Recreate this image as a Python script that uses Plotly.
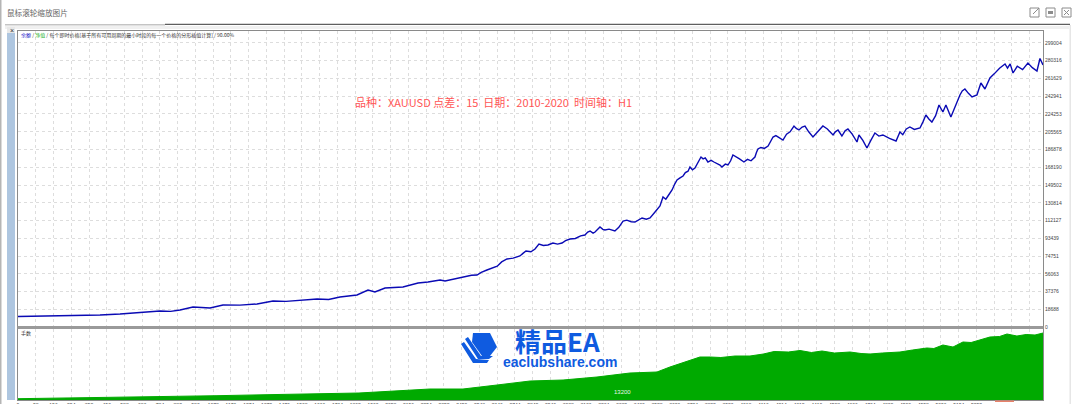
import plotly.graph_objects as go
from plotly.subplots import make_subplots

# balance curve
trades = [0, 120, 237, 350, 462, 575, 690, 800, 860, 913, 986, 1082, 1155, 1250, 1347, 1437, 1510, 1589, 1685, 1750,
          1814, 1910, 1972, 2011, 2068, 2169, 2254, 2310, 2378, 2406, 2507, 2530, 2555, 2586, 2610, 2642, 2676, 2700,
          2725, 2755, 2790, 2828, 2845, 2862, 2890, 2913, 2935, 2960, 2986, 3014, 3040, 3065, 3085, 3110, 3140, 3170,
          3194, 3210, 3223, 3240, 3251, 3265, 3279, 3295, 3307, 3330, 3363, 3385, 3409, 3430, 3455, 3476, 3495, 3516,
          3540, 3561, 3589, 3617, 3634, 3650, 3662, 3675, 3685, 3700, 3713, 3730, 3747, 3760, 3775, 3786, 3800, 3814,
          3830, 3848, 3860, 3872, 3887, 3905, 3921, 3940, 3955, 3966, 3985, 4000, 4015, 4028, 4045, 4065, 4090, 4110,
          4130, 4152, 4160, 4169, 4185, 4205, 4226, 4240, 4254, 4270, 4290, 4310, 4330, 4350, 4372, 4385, 4400, 4418,
          4434, 4455, 4479, 4500, 4520, 4535, 4560, 4592, 4605, 4620, 4642, 4660, 4676, 4700, 4727, 4738, 4760, 4783,
          4805, 4828, 4850, 4873, 4910, 4947, 4969, 4985, 5005, 5025, 5050, 5082, 5100, 5115, 5132, 5149, 5170, 5189,
          5211, 5228, 5256, 5280, 5307, 5320, 5335, 5355, 5375, 5403, 5425, 5448, 5476, 5500, 5530, 5561, 5575, 5590,
          5606, 5630, 5660, 5690, 5715, 5741, 5758, 5775]
balance = [11050, 11300, 11580, 12000, 12630, 13690, 15000, 16840, 16400, 17900, 21060, 20000, 23160, 23000, 24210,
           27370, 27000, 28430, 29480, 29000, 31580, 33690, 38950, 36850, 41060, 42110, 46320, 47380, 49480, 48430,
           52640, 53000, 54500, 54750, 57500, 60010, 62120, 64000, 68500, 71590, 72500, 74750, 77500, 80010, 79200,
           82120, 87380, 85800, 86330, 88440, 87300, 88440, 91000, 92650, 93200, 96000, 96860, 100000, 101070, 98800,
           100020, 103000, 105280, 102800, 102120, 103000, 101070, 105000, 111600, 112500, 110800, 110540, 113000,
           114760, 113500, 114760, 121070, 127390, 136860, 134500, 137920, 141500, 144230, 150500, 154760, 157000,
           158970, 162500, 164000, 168450, 165500, 167390, 172500, 178980, 177000, 178000, 173710, 175500, 173710,
           172000, 170500, 168450, 171500, 170550, 175000, 181080, 179500, 177000, 173710, 176500, 175000, 178980,
           183500, 187400, 189000, 188000, 190560, 195500, 200030, 201500, 199500, 196870, 203000, 205500, 211610,
           209000, 207400, 210500, 211610, 205500, 200030, 204500, 209500, 211610, 208500, 202140, 205500, 207400,
           201090, 206500, 208450, 203000, 194770, 202140, 196500, 188450, 196500, 204240, 201000, 202140, 198500,
           195820, 205300, 202500, 208500, 210560, 208000, 209510, 216500, 223190, 219000, 215820, 222500, 233720,
           226350, 233720, 221090, 233000, 244250, 248500, 250570, 246000, 242140, 244250, 256880, 250570, 262150,
           266500, 272500, 276890, 272500, 277000, 267410, 274500, 271000, 277940, 273000, 269520, 282680, 275830]

# lot size panel
lot_trades = [0, 462, 800, 1121, 1403, 1685, 1921, 2321, 2507, 2699, 2885, 3071, 3262, 3448, 3600, 3673, 3740, 3800,
              3842, 3900, 3960, 4040, 4124, 4200, 4260, 4340, 4406, 4470, 4530, 4600, 4688, 4750, 4800, 4870, 4969,
              5040, 5121, 5160, 5211, 5268, 5324, 5370, 5420, 5476, 5530, 5572, 5600, 5628, 5680, 5730, 5775]
lots = [1.3, 2.3, 3.3, 4.3, 5.3, 6, 7, 11, 11, 15, 19, 20, 23, 27, 28, 33, 37, 41, 43, 43, 42.5, 44, 44, 46, 48.5, 48,
        49.5, 47.5, 49, 47, 48, 46.5, 46, 47, 48, 50, 52, 51.5, 55, 53, 58, 57.5, 60, 63, 63.5, 66, 65, 64, 65.5, 65,
        67]

balance_ticks = [0, 18688, 37376, 56063, 74751, 93439, 112127, 130814, 149502, 168190, 186878, 205565, 224253, 242941,
                 261629, 280316, 299004]
trade_ticks = list(range(0, 5800, 100))
trade_labels = [str(t * 98 // 100) if t <= 5400 else "" for t in trade_ticks]

W, H = 1078, 404
L, R, T, B = 18, 1043, 31, 400


def px(x):
    return (x - L) / (R - L)


def py(y):
    return (B - y) / (B - T)


fig = make_subplots(rows=2, cols=1, shared_xaxes=True, vertical_spacing=2 / (B - T), row_heights=[296, 71])

fig.add_trace(go.Scatter(x=trades, y=balance, mode="lines", line=dict(color="#0a0ab4", width=1.4)), row=1, col=1)
fig.add_trace(go.Scatter(x=lot_trades, y=lots, mode="lines", fill="tozeroy", fillcolor="#00aa00",
                         line=dict(color="#00aa00", width=1)), row=2, col=1)

grid = dict(showgrid=True, gridcolor="#dddddd", griddash="dot", gridwidth=1, zeroline=False, automargin=False)
border = dict(showline=True, linecolor="#8a8a8a", linewidth=1, mirror=True)
tick_font = dict(family="Liberation Sans", size=5, color="#444444")

fig.update_xaxes(range=[0, 5775], tickvals=trade_ticks, **grid, **border)
fig.update_xaxes(showticklabels=False, row=1, col=1)
fig.update_xaxes(ticktext=trade_labels, showticklabels=True, tickfont=tick_font, ticks="", row=2, col=1)
fig.update_yaxes(side="right", tickfont=tick_font, tickformat="d", **grid, **border)
fig.update_yaxes(range=[0, 311630], tickvals=balance_ticks, row=1, col=1)
fig.update_yaxes(range=[0, 71], showticklabels=False, showgrid=False, row=2, col=1)

shapes = []


def rect(x0, y0, x1, y1, fill=None, line=None, width=1):
    shapes.append(dict(type="rect", xref="paper", yref="paper", x0=px(x0), y0=py(y0), x1=px(x1), y1=py(y1),
                       fillcolor=fill, line=dict(color=line, width=width if line else 0)))


def seg(x0, y0, x1, y1, color="#8c8c8c"):
    shapes.append(dict(type="line", xref="paper", yref="paper", x0=px(x0), y0=py(y0), x1=px(x1), y1=py(y1),
                       line=dict(color=color, width=1)))


def poly(points, fill):
    path = "M " + " L ".join(f"{px(x):.5f} {py(y):.5f}" for x, y in points) + " Z"
    shapes.append(dict(type="path", xref="paper", yref="paper", path=path, fillcolor=fill, line=dict(width=0)))


# window chrome
rect(0, 0, 1.5, 404, fill="#b5b5b5")
rect(5, 24, 165, 25.5, fill="#c4c4c4")
rect(165, 23.7, 1070, 25, fill="#5e5e5e")
rect(5, 26, 1069, 29, fill="#f0f0f0")
rect(1069.5, 25, 1071, 404, fill="#e6e6e6")
rect(7, 33, 15, 400, fill="#aec6e0")
rect(7, 27, 15, 33, fill="#e8e8e8")
rect(L - 0.5, 326, R + 0.5, 329, fill="#9a9a9a")
rect(995, 400.5, 1014, 402, fill="#e8826a")
for x0 in (1030, 1046, 1062):
    rect(x0, 8, x0 + 9, 17, line="#8c8c8c")
rect(1048, 11, 1053, 14, fill="#8c8c8c")
seg(1033, 14, 1039, 8)
seg(1064, 10, 1069, 15)
seg(1064, 15, 1069, 10)

# logo in the watermark
poly([(473, 333), (490, 333), (497, 347), (490, 356), (482, 356), (472, 342)], "#0f5be0")
poly([(465, 339), (468, 337), (481, 356), (493, 356), (489, 359), (478, 359)], "#0f5be0")
poly([(461, 344), (464, 342), (476, 359), (489, 360), (487, 363), (473, 363)], "#0f5be0")

fig.update_layout(shapes=shapes)

cjk = "Noto Sans CJK SC"
fig.add_annotation(text="鼠标滚轮缩放图片", x=px(6), y=py(13), font=dict(family=cjk, size=7.6, color="#666666"))
fig.add_annotation(text="×", x=px(8.5), y=py(30), font=dict(family="Liberation Sans", size=7, color="#333333"))
fig.add_annotation(text="<span style='color:#1515c8'>余额</span> / <span style='color:#22b322'>净值</span> / "
                        "每个即时价格[基于所有可用周期的最小时段的每一个价格的分形插值计算] / 90.00%",
                   x=px(20), y=py(35), font=dict(family=cjk, size=5, color="#333333"))
fig.add_annotation(text="手数", x=px(20), y=py(332.5), font=dict(family=cjk, size=5, color="#333333"))
fig.add_annotation(text="品种：XAUUSD 点差：15  日期：2010-2020  时间轴：H1", x=px(354), y=py(102),
                   font=dict(family=cjk, size=11, color="#ff5555"))
fig.add_annotation(text="精品EA", x=px(514), y=py(340.5), font=dict(family=cjk, size=26, color="#0f5be0", weight="bold"))
fig.add_annotation(text="eaclubshare.com", x=px(502), y=py(362),
                   font=dict(family="Liberation Sans", size=14, color="#0f5be0", weight="bold"))
fig.add_annotation(text="13200", x=px(613), y=py(392), font=dict(family="Liberation Sans", size=6, color="#e8f5e8"))
fig.update_annotations(xref="paper", yref="paper", xanchor="left", yanchor="middle", showarrow=False, borderpad=0)

fig.update_layout(width=W, height=H, margin=dict(l=L, r=W - R, t=T, b=H - B, pad=0), showlegend=False,
                  paper_bgcolor="white", plot_bgcolor="white", hovermode=False)
# the page has a default 8px body margin that would push everything over
fig.write_html("out.html", config={"displayModeBar": False}, post_script="document.body.style.margin='0';")
